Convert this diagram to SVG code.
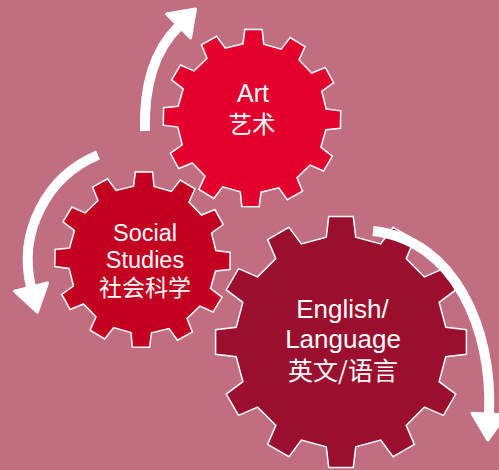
<svg xmlns="http://www.w3.org/2000/svg" xmlns:xlink="http://www.w3.org/1999/xlink" width="499" height="470" viewBox="0 0 499 470">
<style>
.lbl{font-family:"Liberation Sans","Noto Sans CJK SC",sans-serif;fill:#ffffff;text-anchor:middle}
.cjk{font-family:"Noto Sans CJK SC","Liberation Sans",sans-serif}
.shaft{fill:none;stroke:#ffffff;stroke-width:10}
.head{fill:#ffffff;stroke:#ffffff;stroke-width:3;stroke-linejoin:round}
.gear{stroke:#ffffff}
</style>
<defs>
<path id="gearShape" d="M83.18,-11.69 L99.52,-9.76 L99.52,9.76 L83.18,11.69 L77.88,31.47 L91.07,41.31 L81.31,58.21 L66.19,51.72 L51.72,66.19 L58.21,81.31 L41.31,91.07 L31.47,77.88 L11.69,83.18 L9.76,99.52 L-9.76,99.52 L-11.69,83.18 L-31.47,77.88 L-41.31,91.07 L-58.21,81.31 L-51.72,66.19 L-66.19,51.72 L-81.31,58.21 L-91.07,41.31 L-77.88,31.47 L-83.18,11.69 L-99.52,9.76 L-99.52,-9.76 L-83.18,-11.69 L-77.88,-31.47 L-91.07,-41.31 L-81.31,-58.21 L-66.19,-51.72 L-51.72,-66.19 L-58.21,-81.31 L-41.31,-91.07 L-31.47,-77.88 L-11.69,-83.18 L-9.76,-99.52 L9.76,-99.52 L11.69,-83.18 L31.47,-77.88 L41.31,-91.07 L58.21,-81.31 L51.72,-66.19 L66.19,-51.72 L81.31,-58.21 L91.07,-41.31 L77.88,-31.47 Z"/>
</defs>
<rect x="0" y="0" width="499" height="470" fill="#C26E81"/>

<g id="art">
<use xlink:href="#gearShape" class="gear" fill="#E3002C" stroke-width="1.7" transform="translate(252,118) rotate(1) scale(0.89)"/>
<text class="lbl" font-size="25"><tspan x="253" y="101.7">Art</tspan><tspan class="cjk" x="252" y="133.3" font-size="23.5">艺术</tspan></text>
</g>

<g id="social-studies">
<use xlink:href="#gearShape" class="gear" fill="#C3001F" stroke-width="1.7" transform="translate(142.5,259.5) rotate(1) scale(0.88)"/>
<text class="lbl" font-size="23.5"><tspan x="145" y="240.7">Social</tspan><tspan x="145" y="267.5">Studies</tspan><tspan class="cjk" x="145" y="296.3" font-size="23">社会科学</tspan></text>
</g>

<g id="english-language">
<use xlink:href="#gearShape" class="gear" fill="#9C0E2D" stroke-width="1.2" transform="translate(341,342) scale(1.26)"/>
<text class="lbl" font-size="26"><tspan x="342.5" y="317.5">English/</tspan><tspan x="343" y="348.3">Language</tspan><tspan class="cjk" x="343" y="380" font-size="25">英文/语言</tspan></text>
</g>

<g id="connectors">
<path class="shaft" d="M145,131 Q143,62 178,27"/>
<polygon class="head" points="166.5,14 195.5,9 190.5,38"/>
<path class="shaft" d="M98,155 A114,114 0 0 0 31,287"/>
<polygon class="head" points="14.5,291.1 37.3,312.2 47.5,282.9"/>
<path class="shaft" d="M373,231 C455,240 493,330 489,414"/>
<polygon class="head" points="472,413.2 487.8,440 506,414.8"/>
</g>
</svg>
